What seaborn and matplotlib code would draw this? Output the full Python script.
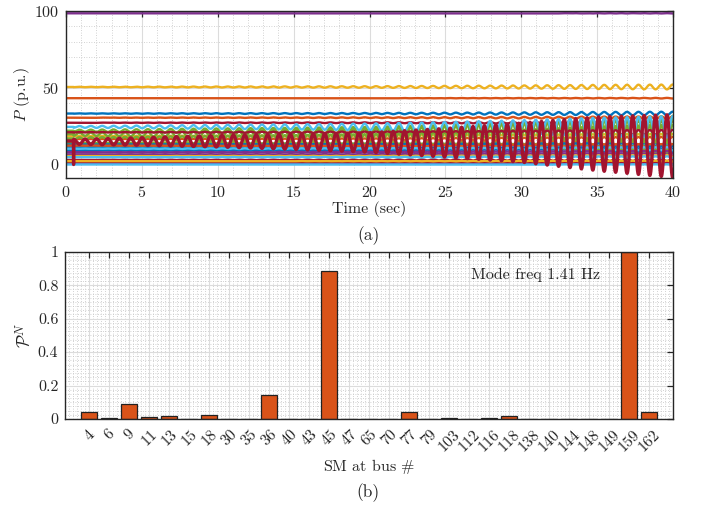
import numpy as np
import pandas as pd
import matplotlib
matplotlib.use("Agg")
import matplotlib.pyplot as plt
import seaborn as sns
from matplotlib.ticker import MultipleLocator, FixedLocator

# ---------------- data ----------------
# (b) participation factors
buses = [4, 6, 9, 11, 13, 15, 18, 30, 35, 36, 40, 43, 45, 47, 65, 70, 77, 79,
         103, 112, 116, 118, 138, 140, 144, 148, 149, 159, 162]
participation = [0.040, 0.003, 0.088, 0.010, 0.018, 0.001, 0.023, 0.001, 0.001,
                 0.142, 0.002, 0.001, 0.884, 0.001, 0.0005, 0.0005, 0.039, 0.0005,
                 0.003, 0.001, 0.003, 0.017, 0.001, 0.001, 0.002, 0.002, 0.001,
                 1.0, 0.040]
mode_text = "Mode freq 1.41 Hz"

# (a) generator power traces: pre-disturbance level, oscillation amplitude at 40 s, phase sign
gen_colors = ["#0072BD", "#D95319", "#EDB120", "#7E2F8E", "#77AC30", "#4DBEEE", "#A2142F"]
gen_level = [33.2, 43.2, 50.5, 98.5, 14.0, 24.5,       # 0-5
             27.2, 11.4, 30.5, 18.4, 6.6, 19.7, 0.0,   # 6-12
             3.0, 9.2, 16.5, 5.5, 0.9, 17.0, 4.8,      # 13-19
             1.8, 13.0, 12.3, 2.2, 8.0, 22.0, 10.3,    # 20-26
             21.0]                                     # 27
gen_amp_end = [1.2, 0.2, 1.6, 0.1, 1.2, 7.0,
               0.8, 1.0, 0.8, 1.5, 0.8, 12.0, 0.1,
               0.8, 1.0, 1.5, 0.5, 0.3, 9.0, 0.5,
               0.3, 1.0, 1.0, 0.3, 0.8, 8.0, 1.0,
               1.5]
gen_sign = [-1, 1, -1, 1, 1, -1,
            -1, 1, -1, -1, 1, -1, 1,
            -1, 1, -1, 1, 1, -1, 1,
            -1, 1, -1, 1, 1, -1, 1,
            -1]
# dominant (dark red) generator oscillation envelope
env_t = [0.5, 5, 10, 15, 20, 25, 30, 35, 40]
env_upper = [16.4, 17.5, 19.0, 19.6, 20.8, 23.5, 27.0, 31.0, 32.5]
env_lower = [13.2, 12.5, 11.4, 9.8, 8.0, 4.8, 1.5, -4.0, -8.5]
dom_pre_level = 15.3
osc_freq_visual = 1.33   # Hz (as drawn)
t_peak = 30.58           # s, a crest of the dominant trace
t_event = 0.5

# ---------------- build traces ----------------
t = np.round(np.arange(0, 40.0001, 0.01), 3)
up = np.interp(t, env_t, env_upper)
lo = np.interp(t, env_t, env_lower)
mid = (up + lo) / 2
half = (up - lo) / 2
g = half / half[-1]
wave = np.cos(2 * np.pi * osc_freq_visual * (t - t_peak))
after = t >= t_event
ev = np.argmin(np.abs(t - t_event))

rows_main, rows_top = [], []
pal = {}
for i, (lv, a, s) in enumerate(zip(gen_level, gen_amp_end, gen_sign)):
    y = lv + np.where(after, s * a * g * wave, 0.0)
    name = f"g{i:02d}"
    if i == 11:
        y[ev] = 21.5
    pal[name] = gen_colors[i % 7]
    frame = pd.DataFrame({"t": t, "P": y, "gen": name})
    (rows_top if i % 7 == 5 else rows_main).append(frame)
df_main = pd.concat(rows_main, ignore_index=True)
df_top = pd.concat(rows_top, ignore_index=True)

dom = np.where(after, mid + half * wave, dom_pre_level)
dom[ev] = 0.0
df_dom = pd.DataFrame({"t": t, "P": dom})

# ---------------- style ----------------
sns.set_theme(style="white")
plt.rcParams["font.family"] = ["cmr10", "DejaVu Serif"]
plt.rcParams["mathtext.fontset"] = "cm"
plt.rcParams["axes.formatter.use_mathtext"] = True
plt.rcParams["axes.unicode_minus"] = False

W, H = 702, 508
fig = plt.figure(figsize=(W / 100, H / 100), dpi=100)
ax1 = fig.add_axes([66 / W, 1 - 178 / H, (673 - 66) / W, (178 - 11) / H])
ax2 = fig.add_axes([65.3 / W, 1 - 419 / H, 608 / W, (419 - 251.7) / H])

spine_col = "#262626"
fs = 11.5

def style_axes(ax):
    ax.set_axisbelow(True)
    ax.grid(which="major", color="#dcdcdc", lw=0.8, ls="-")
    ax.grid(which="minor", color="#c4c4c4", lw=0.6, ls=(0, (1, 2)))
    for sp in ax.spines.values():
        sp.set_color(spine_col)
        sp.set_linewidth(1.0)
        sp.set_visible(True)
    ax.tick_params(which="major", direction="in", top=True, right=True,
                   length=4, width=0.9, color=spine_col, labelsize=fs,
                   labelcolor="#262626", pad=5)
    ax.tick_params(which="minor", length=0)

# ---------------- (a) ----------------
sns.lineplot(data=df_main, x="t", y="P", hue="gen", palette=pal,
             estimator=None, sort=False, legend=False, linewidth=1.7, ax=ax1)
sns.lineplot(data=df_top, x="t", y="P", hue="gen", palette=pal,
             estimator=None, sort=False, legend=False, linewidth=1.7, ax=ax1)
sns.lineplot(data=df_dom, x="t", y="P", color="#A2142F", estimator=None,
             sort=False, linewidth=2.4, ax=ax1)
ax1.set_xlim(0, 40)
ax1.set_ylim(-8.8, 100)
ax1.set_xticks(np.arange(0, 41, 5))
ax1.set_yticks([0, 50, 100])
ax1.xaxis.set_minor_locator(MultipleLocator(1))
ax1.yaxis.set_minor_locator(MultipleLocator(10))
style_axes(ax1)
ax1.set_xlabel("Time (sec)", fontsize=fs, color="#262626", labelpad=1)
ax1.set_ylabel("$P$ (p.u.)", fontsize=fs, color="#262626", labelpad=1)

# ---------------- (b) ----------------
bus_labels = [str(b) for b in buses]
sns.barplot(x=bus_labels, y=participation, color="#D95319", saturation=1,
            edgecolor="#222222", linewidth=0.9, width=0.8, ax=ax2)
ax2.set_xlim(-1.2, len(buses) - 1 + 1.2)
ax2.set_ylim(0, 1)
ax2.xaxis.set_major_locator(FixedLocator(range(len(buses))))
ax2.set_xticklabels(bus_labels, rotation=45, ha="center", va="top")
ax2.set_yticks([0, 0.2, 0.4, 0.6, 0.8, 1.0])
ax2.set_yticklabels(["0", "0.2", "0.4", "0.6", "0.8", "1"])
ax2.xaxis.set_minor_locator(MultipleLocator(0.2))
ax2.yaxis.set_minor_locator(MultipleLocator(0.025))
style_axes(ax2)
ax2.tick_params(axis="x", which="major", pad=6)
ax2.set_xlabel(r"SM at bus $\#$", fontsize=fs, color="#262626", labelpad=2)
ax2.set_ylabel(r"$\mathcal{P}^N$", fontsize=fs + 1, color="#262626", labelpad=3)
ax2.text(0.668, 0.861, mode_text, transform=ax2.transAxes, fontsize=fs,
         color="#262626", ha="left", va="center")

fig.text(369 / W, 1 - 236 / H, "(a)", fontsize=fs + 1, ha="center", va="center",
         color="#262626")
fig.text(368 / W, 1 - 493 / H, "(b)", fontsize=fs + 1, ha="center", va="center",
         color="#262626")

fig.savefig("out.png", dpi=100, facecolor="white")
